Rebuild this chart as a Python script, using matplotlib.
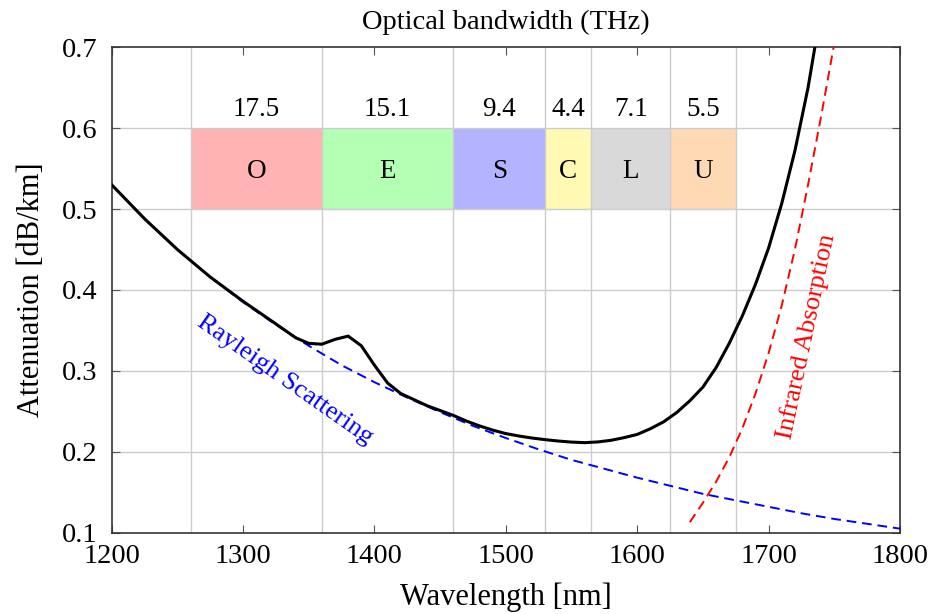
import matplotlib
matplotlib.use('Agg')
import matplotlib.pyplot as plt
from matplotlib.patches import Rectangle

plt.rcParams['font.family'] = ['Liberation Serif', 'DejaVu Serif']

# rayleigh scattering
ray_wl = [1200, 1225, 1250, 1275, 1300, 1325, 1350, 1375, 1400, 1425, 1450, 1475, 1500,
          1525, 1550, 1575, 1600, 1625, 1650, 1675, 1700, 1725, 1750, 1775, 1800]
ray_att = [0.530, 0.488, 0.450, 0.416, 0.385, 0.357, 0.331, 0.307, 0.286, 0.267, 0.249, 0.232, 0.217,
           0.203, 0.190, 0.179, 0.168, 0.158, 0.148, 0.140, 0.132, 0.124, 0.117, 0.111, 0.105]

# infrared absorption
ir_wl = [1640, 1650, 1660, 1670, 1680, 1690, 1700, 1710, 1720, 1730, 1740, 1750]
ir_att = [0.113, 0.137, 0.163, 0.193, 0.229, 0.272, 0.322, 0.381, 0.450, 0.530, 0.615, 0.705]

# total attenuation
tot_wl = [1200, 1225, 1250, 1275, 1300, 1325, 1340, 1350, 1360, 1370, 1380, 1390, 1400, 1410,
          1420, 1440, 1450, 1460, 1470, 1480, 1490, 1500, 1510, 1520, 1530, 1540, 1550, 1560,
          1570, 1580, 1590, 1600, 1610, 1620, 1630, 1640, 1650, 1660, 1670, 1680, 1690, 1700,
          1710, 1720, 1730, 1735, 1740]
tot_att = [0.530, 0.488, 0.450, 0.416, 0.386, 0.358, 0.341, 0.334, 0.333, 0.339, 0.343, 0.331, 0.307, 0.285,
           0.272, 0.257, 0.251, 0.245, 0.238, 0.232, 0.2268, 0.2225, 0.2195, 0.217, 0.215, 0.2133, 0.212, 0.2113,
           0.2122, 0.2142, 0.2175, 0.2215, 0.2285, 0.237, 0.2485, 0.263, 0.280, 0.304, 0.334, 0.368, 0.407, 0.452,
           0.507, 0.572, 0.650, 0.698, 0.748]

band_edges = [1260, 1360, 1460, 1530, 1565, 1625, 1675]
band_names = ['O', 'E', 'S', 'C', 'L', 'U']
band_thz = ['17.5', '15.1', '9.4', '4.4', '7.1', '5.5']
band_colors = ['#ffb3b3', '#b3ffb3', '#b3b3ff', '#fff9b3', '#d9d9d9', '#fed9b3']

fig = plt.figure(figsize=(9.31, 6.14), dpi=100)
ax = fig.add_axes([0.12, 0.1324, 0.8467, 0.7906])

grid_c = '#cccccc'
for e in band_edges:
    ax.axvline(e, color=grid_c, lw=1, zorder=1)
for yv in [0.2, 0.3, 0.4, 0.5, 0.6]:
    ax.axhline(yv, color=grid_c, lw=1, zorder=1)

for i in range(len(band_names)):
    x0, x1 = band_edges[i], band_edges[i + 1]
    ax.add_patch(Rectangle((x0, 0.5), x1 - x0, 0.1, facecolor=band_colors[i],
                           edgecolor='none', zorder=0.5))
    xc = (x0 + x1) / 2
    ax.text(xc, 0.546, band_names[i], ha='center', va='center', fontsize=19.5)
    ax.text(xc, 0.623, band_thz[i], ha='center', va='center', fontsize=19.5)

ax.plot(ray_wl, ray_att, color='blue', lw=1.4, dashes=(5, 3), zorder=3)
ax.plot(ir_wl, ir_att, color='red', lw=1.4, dashes=(5, 3), zorder=3)
ax.plot(tot_wl, tot_att, color='black', lw=2.2, zorder=4)

ax.text(1332, 0.289, 'Rayleigh Scattering', color='blue', fontsize=19,
        rotation=-35, ha='center', va='center', rotation_mode='anchor')
ax.text(1729, 0.342, 'Infrared Absorption', color='red', fontsize=19,
        rotation=78, ha='center', va='center', rotation_mode='anchor')

ax.set_xlim(1200, 1800)
ax.set_ylim(0.1, 0.7)
ax.set_xticks(range(1200, 1801, 100))
ax.set_yticks([0.1, 0.2, 0.3, 0.4, 0.5, 0.6, 0.7])
ax.set_yticklabels(['0.1', '0.2', '0.3', '0.4', '0.5', '0.6', '0.7'])
ax.tick_params(direction='in', top=True, right=True, labelsize=20.5, length=6, color='#555555')
ax.tick_params(axis='x', pad=8)
ax.tick_params(axis='y', pad=10)
for s in ax.spines.values():
    s.set_linewidth(1.2)
    s.set_color('#333333')

ax.set_xlabel('Wavelength [nm]', fontsize=22, labelpad=10)
ax.set_ylabel('Attenuation [dB/km]', fontsize=22, labelpad=12)
ax.set_title('Optical bandwidth (THz)', fontsize=20.5, pad=13)

fig.savefig('out.png', dpi=100)
